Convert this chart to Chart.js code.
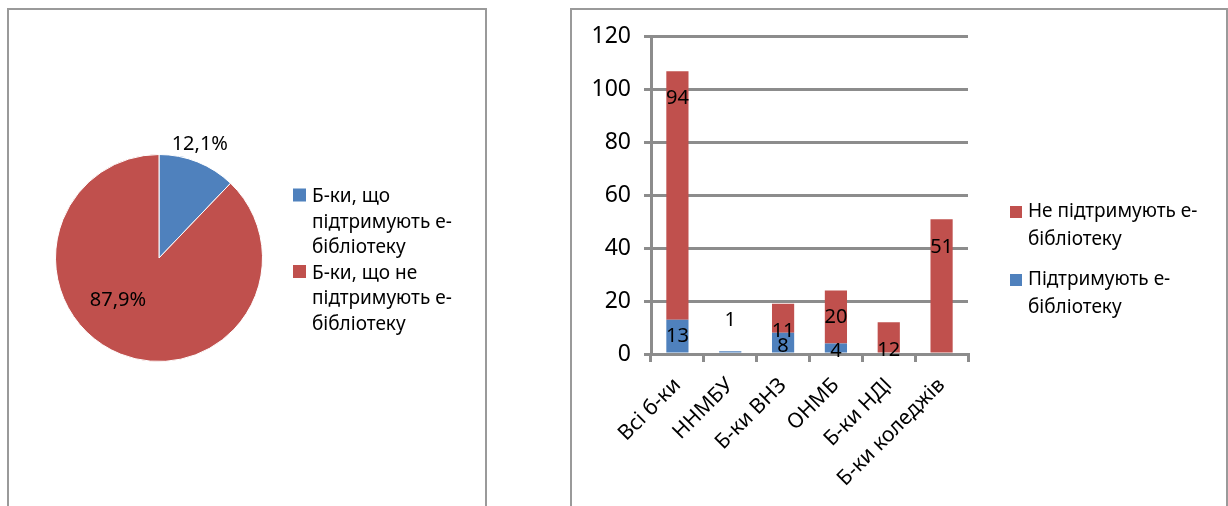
<!DOCTYPE html>
<html><head><meta charset="utf-8">
<script src="https://cdn.jsdelivr.net/npm/chart.js@4/dist/chart.umd.min.js"></script>
<style>
html,body{margin:0;padding:0;background:#fff;width:1228px;height:506px;overflow:hidden;position:relative;}
.panel{position:absolute;border:2px solid #9a9a9a;box-sizing:border-box;background:#fff;}
#p1{left:7px;top:8px;width:480px;height:540px;}
#p2{left:570px;top:8px;width:658px;height:540px;}
canvas{position:absolute;}
#c1{left:0;top:0;width:560px;height:506px;}
#c2{left:572px;top:10px;width:652px;height:496px;}
</style></head><body>
<div class="panel" id="p1"></div><div class="panel" id="p2"></div>
<canvas id="c1" width="560" height="506"></canvas>
<canvas id="c2" width="652" height="496"></canvas>
<script>
// ---- data ----
const pieLabels = ['Б-ки, що підтримують е-бібліотеку', 'Б-ки, що не підтримують е-бібліотеку'];
const pieValues = [13, 94];
const categories = ['Всі б-ки', 'ННМБУ', 'Б-ки ВНЗ', 'ОНМБ', 'Б-ки НДІ', 'Б-ки коледжів'];
const supportLabel = 'Підтримують е-бібліотеку';
const notSupportLabel = 'Не підтримують е-бібліотеку';
const support = [13, 1, 8, 4, 0, 0];
const notSupport = [94, 0, 11, 20, 12, 51];
const yTicks = [0, 20, 40, 60, 80, 100, 120];

// ---- styling ----
const FONT = '"Noto Sans", "DejaVu Sans", sans-serif';
const BLUE = '#4F81BD', RED = '#C0504D', GRID = '#8c8c8c';
Chart.defaults.font.family = FONT;
Chart.defaults.color = '#000';

// label placement (value units on the y scale; null = segment centre)
const barLabelAt = [[null, 12.8, 2.8, 1.1, null, null], [96.6, null, 8.7, null, 1.5, 40.3]];
// pie label placement: fraction along arc, radius factor
const pieLabelAt = [[0.45, 1.17], [0.57, 0.57]];

function wrapText(ctx, text, maxW) {
  const tokens = text.split(/(?<=[ -])/);
  const lines = []; let line = '';
  tokens.forEach(t => {
    if (line && ctx.measureText((line + t).trimEnd()).width > maxW) { lines.push(line.trimEnd()); line = t; }
    else line += t;
  });
  if (line) lines.push(line.trimEnd());
  return lines;
}

function drawLegend(chart, items, o) {
  const ctx = chart.ctx;
  ctx.save();
  ctx.font = o.size + 'px ' + FONT;
  ctx.fillStyle = '#000'; ctx.textAlign = 'left'; ctx.textBaseline = 'middle';
  let y = o.y;
  items.forEach(it => {
    const lines = wrapText(ctx, it.text, o.maxW);
    ctx.fillStyle = it.color;
    ctx.fillRect(o.x, y + o.boxDy - o.box / 2, o.box, o.box);
    ctx.fillStyle = '#000';
    lines.forEach((l, k) => ctx.fillText(l, o.x + o.textDx, y + k * o.lh));
    y += lines.length * o.lh + o.gap;
  });
  ctx.restore();
}

const pieExtras = {
  id: 'pieExtras',
  afterDraw(chart) {
    const ctx = chart.ctx;
    const meta = chart.getDatasetMeta(0);
    const vals = chart.data.datasets[0].data;
    const sum = vals.reduce((a, b) => a + b, 0);
    ctx.save();
    ctx.font = '20px ' + FONT; ctx.fillStyle = '#000';
    ctx.textAlign = 'center'; ctx.textBaseline = 'middle';
    meta.data.forEach((arc, i) => {
      const [f, k] = pieLabelAt[i];
      const a = arc.startAngle + f * (arc.endAngle - arc.startAngle);
      const r = arc.outerRadius * k;
      const txt = (vals[i] / sum * 100).toFixed(1).replace('.', ',') + '%';
      ctx.fillText(txt, arc.x + Math.cos(a) * r, arc.y + Math.sin(a) * r);
    });
    ctx.restore();
    const ds = chart.data.datasets[0];
    drawLegend(chart, chart.data.labels.map((t, i) => ({ text: t, color: ds.backgroundColor[i] })),
      { x: 293, y: 197, box: 13, boxDy: -2, textDx: 19, lh: 25.5, gap: 0, size: 19, maxW: 170 });
  }
};

new Chart(document.getElementById('c1'), {
  type: 'pie',
  data: { labels: pieLabels, datasets: [{ data: pieValues, backgroundColor: [BLUE, RED], borderColor: '#ffffff', borderWidth: 1 }] },
  options: {
    responsive: false, animation: false,
    layout: { padding: { left: 55, top: 154, right: 297, bottom: 144 } },
    plugins: { legend: { display: false }, tooltip: { enabled: false } }
  },
  plugins: [pieExtras]
});

const barExtras = {
  id: 'barExtras',
  afterDatasetsDraw(chart) {
    const ctx = chart.ctx, ys = chart.scales.y;
    ctx.save();
    ctx.font = '20px ' + FONT; ctx.fillStyle = '#000';
    ctx.textAlign = 'center'; ctx.textBaseline = 'middle';
    chart.data.datasets.forEach((ds, i) => {
      const meta = chart.getDatasetMeta(i);
      ds.data.forEach((v, j) => {
        if (!v) return;
        const el = meta.data[j];
        const at = barLabelAt[i][j];
        const py = at == null ? (el.y + el.base) / 2 : ys.getPixelForValue(at);
        ctx.fillText(String(v), el.x, py);
      });
    });
    ctx.restore();
  },
  afterDraw(chart) {
    const dss = chart.data.datasets;
    const items = dss.map(d => ({ text: d.label, color: d.backgroundColor })).reverse();
    drawLegend(chart, items, { x: 438, y: 202, box: 12, boxDy: 0, textDx: 18, lh: 28, gap: 12, size: 19, maxW: 200 });
  }
};

new Chart(document.getElementById('c2'), {
  type: 'bar',
  data: {
    labels: categories,
    datasets: [
      { label: supportLabel, data: support, backgroundColor: BLUE },
      { label: notSupportLabel, data: notSupport, backgroundColor: RED }
    ]
  },
  options: {
    responsive: false, animation: false,
    layout: { padding: { left: 0, top: 26, right: 256, bottom: 0 } },
    datasets: { bar: { categoryPercentage: 1, barPercentage: 0.42 } },
    plugins: { legend: { display: false }, tooltip: { enabled: false } },
    scales: {
      x: {
        stacked: true,
        grid: { offset: true, drawOnChartArea: false, drawTicks: true, tickLength: 8, color: GRID, lineWidth: 3 },
        border: { display: true, color: GRID, width: 3 },
        ticks: { minRotation: 45, maxRotation: 45, color: '#000', font: { size: 21 }, padding: 11, autoSkip: false },
        afterFit(s) { s.height = 152; }
      },
      y: {
        stacked: true, min: 0, max: 120,
        afterBuildTicks(s) { s.ticks = yTicks.map(v => ({ value: v })); },
        ticks: { color: '#000', font: { size: 23 }, padding: 13 },
        grid: { color: GRID, lineWidth: 3, tickLength: 7 },
        border: { display: true, color: GRID, width: 3 },
        afterFit(s) { s.width = 79; }
      }
    }
  },
  plugins: [barExtras]
});
</script>
</body></html>
